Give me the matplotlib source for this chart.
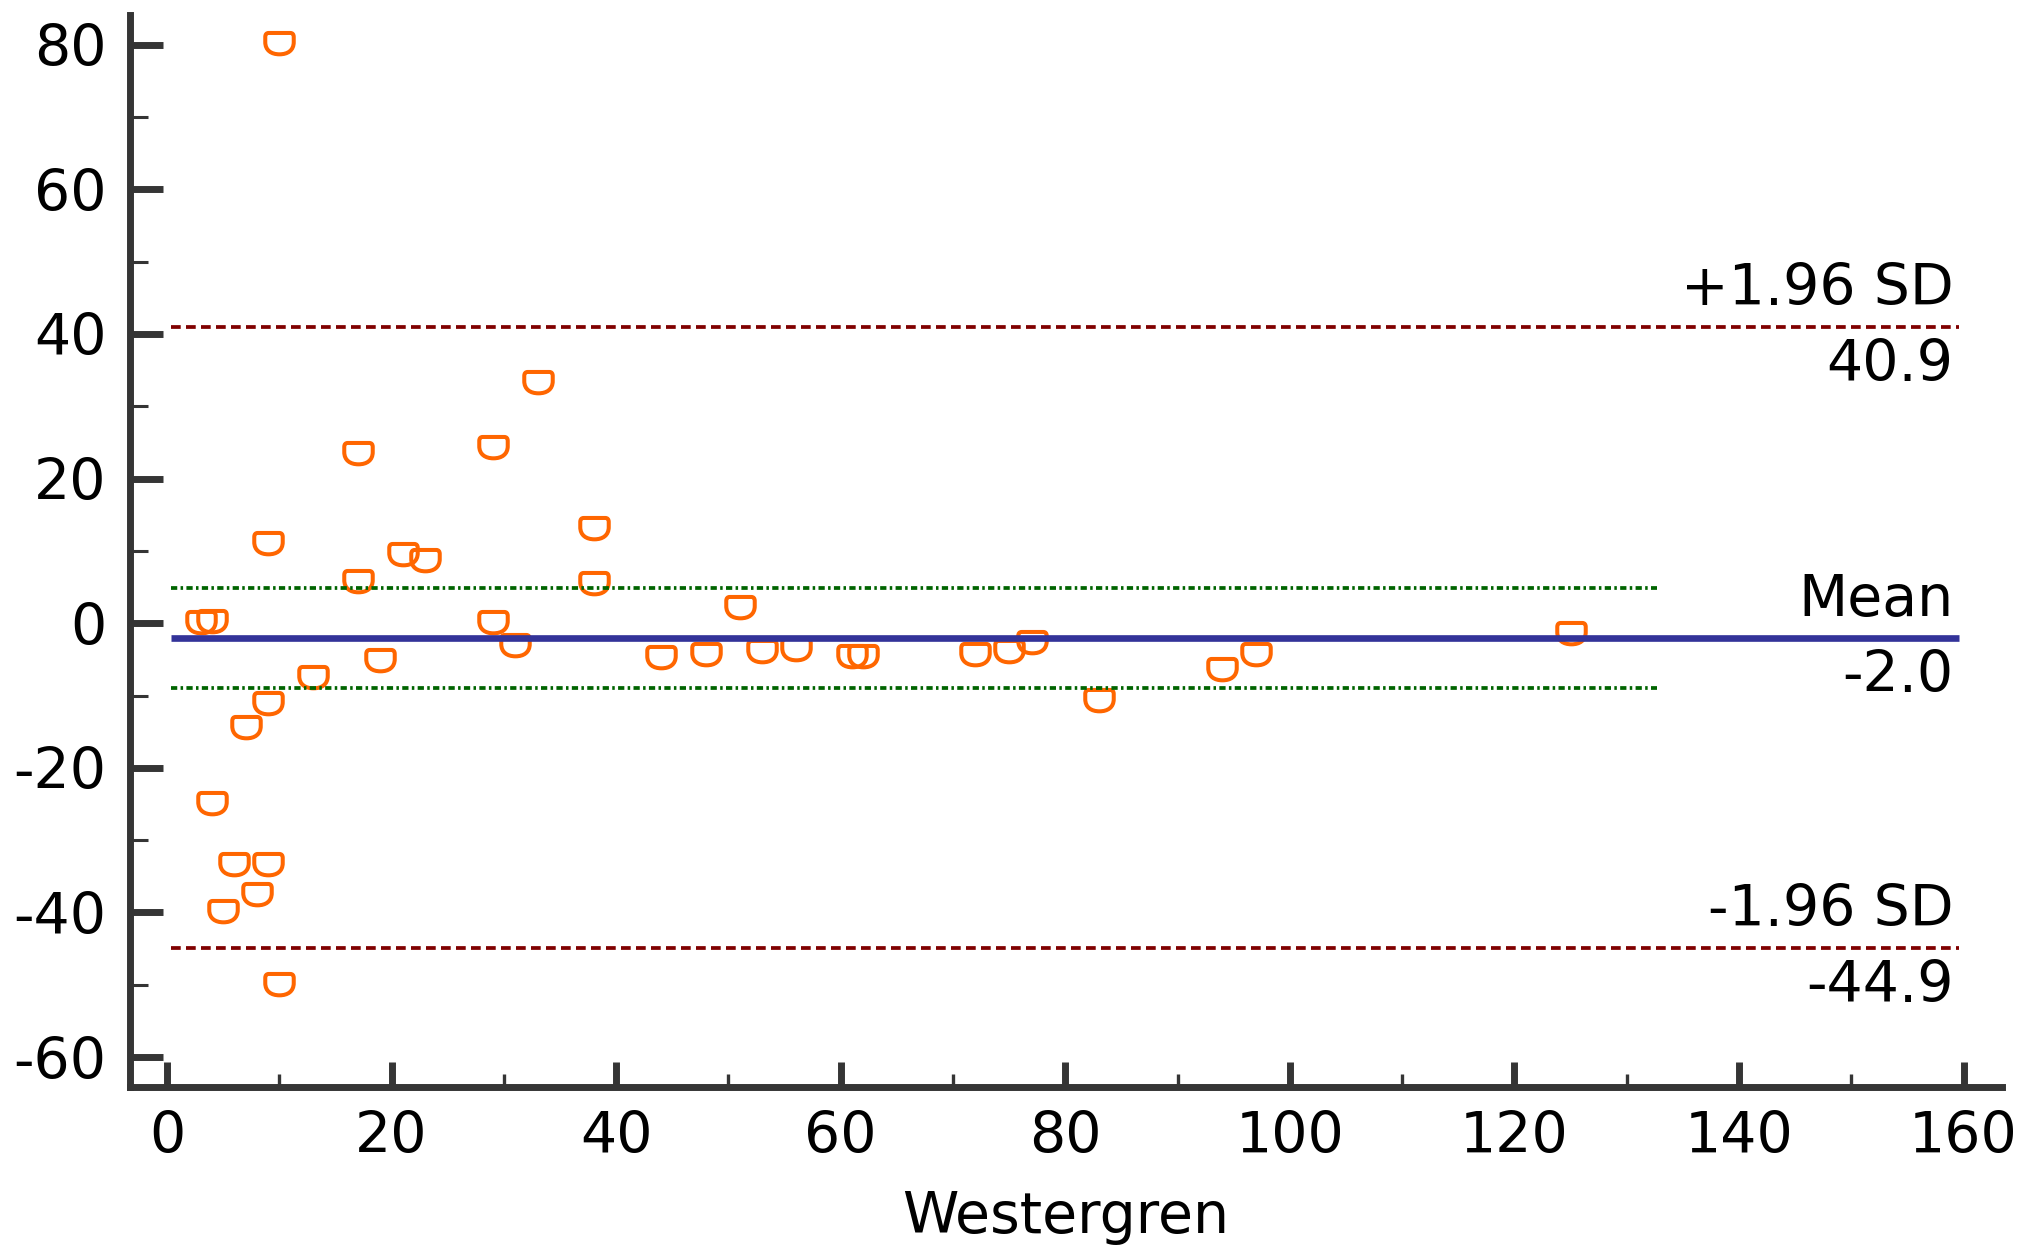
import matplotlib
matplotlib.use("Agg")
import matplotlib.pyplot as plt
from matplotlib.path import Path
from matplotlib.ticker import MultipleLocator
from matplotlib.transforms import offset_copy

# Bland-Altman data: Westergren value vs. difference between methods
westergren = [10, 33, 29, 17, 9, 38, 21, 23, 17, 38, 3, 4, 29, 51, 31, 19, 13,
              44, 48, 53, 56, 61, 62, 72, 75, 77, 83, 94, 97, 125,
              9, 7, 4, 6, 9, 8, 5, 10]
difference = [80.2, 33.3, 24.4, 23.6, 11.15, 13.1, 9.5, 8.8, 5.9, 5.5, 0.2, 0.3,
              0.2, 2.2, -3.0, -5.1, -7.5, -4.7, -4.25, -3.9, -3.5, -4.6, -4.6,
              -4.25, -3.9, -2.6, -10.6, -6.3, -4.3, -1.4,
              -11.1, -14.3, -24.8, -33.3, -33.3, -37.4, -39.8, -49.9]

mean_diff = -2.0
upper_loa = 40.9
lower_loa = -44.9
ci_upper = 4.9
ci_lower = -9.0

x_ticks = [0, 20, 40, 60, 80, 100, 120, 140, 160]
y_ticks = [-60, -40, -20, 0, 20, 40, 60, 80]

plt.rcParams['font.family'] = ['DejaVu Sans']
plt.rcParams['lines.scale_dashes'] = False

FS = 41
AXC = '#353535'

fig = plt.figure(figsize=(20.24, 12.55), dpi=100)
ax = fig.add_axes([0.0642, 0.1341, 0.989 - 0.0642, 0.988 - 0.1341])

# open, flat-topped marker
verts = [(-0.76, 0.74), (0.76, 0.74), (1.0, 0.74), (1.0, 0.46), (1.0, 0.10),
         (1.0, -0.48), (0.58, -0.76), (0.0, -0.76),
         (-0.58, -0.76), (-1.0, -0.48), (-1.0, 0.10),
         (-1.0, 0.46), (-1.0, 0.74), (-0.76, 0.74), (0.0, 0.0)]
codes = [Path.MOVETO, Path.LINETO, Path.CURVE3, Path.CURVE3, Path.LINETO,
         Path.CURVE4, Path.CURVE4, Path.CURVE4,
         Path.CURVE4, Path.CURVE4, Path.CURVE4,
         Path.LINETO, Path.CURVE3, Path.CURVE3, Path.CLOSEPOLY]
cup = Path(verts, codes)

ax.plot(westergren, difference, linestyle='none', marker=cup, markersize=20.5,
        markerfacecolor='none', markeredgecolor='#FF6600', markeredgewidth=2.9,
        zorder=2)

x0, x1 = 0.36, 159.6
x1_ci = 132.7
ax.hlines([upper_loa, lower_loa], x0, x1, colors='#800000', linewidth=2.7,
          linestyles=[(0, (7.0, 3.8))], zorder=3)
ax.hlines([ci_upper, ci_lower], x0, x1_ci, colors='#006400', linewidth=2.7,
          linestyles=[(0, (4.5, 2.4, 1.8, 2.4))], zorder=3)
ax.hlines(mean_diff, x0, x1, colors='#333399', linewidth=4.8, zorder=3)

above = offset_copy(ax.transData, fig=fig, x=0, y=15.8, units='points')
below = offset_copy(ax.transData, fig=fig, x=0, y=-38.9, units='points')
xt = 159.1
for val, name in [(upper_loa, '+1.96 SD'), (mean_diff, 'Mean'), (lower_loa, '-1.96 SD')]:
    ax.text(xt, val, name, transform=above, ha='right', va='baseline', fontsize=FS)
    ax.text(xt, val, f'{val:.1f}', transform=below, ha='right', va='baseline', fontsize=FS)

ax.set_xlim(-3.3, 163.4)
ax.set_ylim(-64.1, 84.1)
ax.set_xticks(x_ticks)
ax.set_yticks(y_ticks)
ax.set_xticklabels([str(v) for v in x_ticks])
ax.set_yticklabels([str(v) for v in y_ticks])
ax.xaxis.set_minor_locator(MultipleLocator(10))
ax.yaxis.set_minor_locator(MultipleLocator(10))

for s in ['top', 'right']:
    ax.spines[s].set_visible(False)
for s in ['left', 'bottom']:
    ax.spines[s].set_linewidth(5)
    ax.spines[s].set_color(AXC)
    ax.spines[s].set_capstyle('projecting')

ax.tick_params(axis='x', which='major', direction='in', length=18, width=5,
               color=AXC, labelsize=FS, pad=17)
ax.tick_params(axis='x', which='minor', direction='in', length=9.6, width=2.4,
               color=AXC)
ax.tick_params(axis='y', which='major', direction='in', length=23.8, width=5,
               color=AXC, labelsize=FS, pad=17)
ax.tick_params(axis='y', which='minor', direction='in', length=13.2, width=2.2,
               color=AXC)

ax.set_xlabel('Westergren', fontsize=FS)
ax.xaxis.set_label_coords(0.5, -0.1362)
ax.xaxis.label.set_va('baseline')

fig.savefig('out.png', dpi=100)
